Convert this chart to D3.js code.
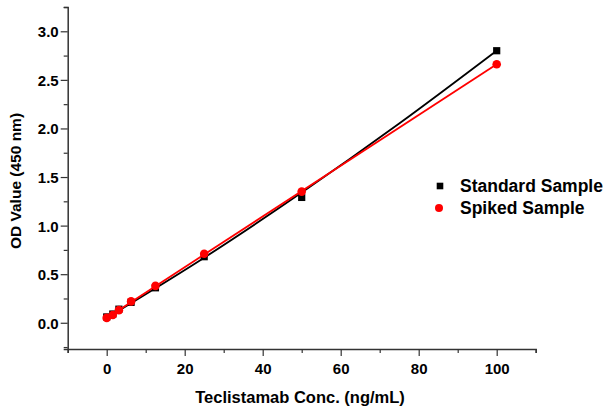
<!DOCTYPE html>
<html>
<head>
<meta charset="utf-8">
<script src="https://cdn.jsdelivr.net/npm/d3@7"></script>
<style>
  body { margin: 0; background: #fff; }
  svg { font-family: Arial, "Liberation Sans", sans-serif; font-weight: bold; }
</style>
</head>
<body>
<svg id="chart" width="608" height="410"></svg>
<script>
// concentrations (ng/mL)
const conc = [0, 1.5625, 3.125, 6.25, 12.5, 25, 50, 100];
const standardOD = [0.06, 0.09, 0.14, 0.21, 0.36, 0.68, 1.29, 2.80];
const spikedOD = [0.05, 0.08, 0.13, 0.22, 0.38, 0.71, 1.35, 2.66];

// fitted curves
const standardFitX = [0, 25, 50, 75, 100];
const standardFitY = [0.05, 0.67, 1.34, 2.05, 2.80];
const spikedFitX = [0, 100];
const spikedFitY = [0.05, 2.66];

const xTicks = [0, 20, 40, 60, 80, 100];
const yTicks = [0.0, 0.5, 1.0, 1.5, 2.0, 2.5, 3.0];

const svg = d3.select('#chart');

const x = d3.scaleLinear().domain([-10, 110]).range([67.7, 535.7]);
const y = d3.scaleLinear().domain([-0.27, 3.25]).range([349, 7]);

const axisColor = '#333';

// y axis
const yAxis = svg.append('g').attr('transform', `translate(${x(-10)},0)`);
yAxis.call(d3.axisLeft(y).tickValues(d3.range(-0.25, 3.26, 0.25)).tickSize(4).tickFormat(''));
yAxis.selectAll('.tick').filter(d => yTicks.some(t => Math.abs(t - d) < 1e-6))
    .select('line').attr('x2', -7);
yAxis.selectAll('.tick').filter(d => yTicks.some(t => Math.abs(t - d) < 1e-6))
    .append('text')
    .attr('x', -9).attr('dy', '0.36em')
    .attr('fill', '#000').attr('text-anchor', 'end')
    .style('font-size', '15px').style('font-weight', 'bold')
    .text(d => d3.format('.1f')(d));

// x axis
const xAxis = svg.append('g').attr('transform', `translate(0,${y(-0.27)})`);
xAxis.call(d3.axisBottom(x).tickValues(d3.range(-10, 111, 10)).tickSize(4).tickFormat(''));
xAxis.selectAll('.tick').filter(d => xTicks.includes(d)).select('line').attr('y2', 7);
xAxis.selectAll('.tick').filter(d => xTicks.includes(d))
    .append('text')
    .attr('y', 25)
    .attr('fill', '#000').attr('text-anchor', 'middle')
    .style('font-size', '15px').style('font-weight', 'bold')
    .text(d => d);

svg.selectAll('.domain').attr('stroke', axisColor).attr('stroke-width', 1.5);
svg.selectAll('.tick line').attr('stroke', axisColor).attr('stroke-width', 1.2);

// axis titles
svg.append('text')
    .attr('x', 300).attr('y', 403)
    .attr('text-anchor', 'middle')
    .style('font-size', '16.5px')
    .text('Teclistamab Conc. (ng/mL)');

svg.append('text')
    .attr('transform', 'translate(21,181) rotate(-90)')
    .attr('text-anchor', 'middle')
    .style('font-size', '15.5px')
    .text('OD Value (450 nm)');

// fit lines and points
const curve = d3.line().x(d => x(d[0])).y(d => y(d[1])).curve(d3.curveMonotoneX);

svg.append('path')
    .datum(d3.zip(standardFitX, standardFitY))
    .attr('d', curve)
    .attr('fill', 'none').attr('stroke', '#000').attr('stroke-width', 1.8);

svg.append('g').selectAll('rect')
    .data(d3.zip(conc, standardOD))
    .join('rect')
    .attr('x', d => x(d[0]) - 3.6).attr('y', d => y(d[1]) - 3.6)
    .attr('width', 7.2).attr('height', 7.2)
    .attr('fill', '#000');

svg.append('path')
    .datum(d3.zip(spikedFitX, spikedFitY))
    .attr('d', curve)
    .attr('fill', 'none').attr('stroke', '#ff0000').attr('stroke-width', 1.8);

svg.append('g').selectAll('circle')
    .data(d3.zip(conc, spikedOD))
    .join('circle')
    .attr('cx', d => x(d[0])).attr('cy', d => y(d[1]))
    .attr('r', 4.3)
    .attr('fill', '#ff0000');

// legend
const legend = svg.append('g').attr('transform', 'translate(440,186)');
legend.append('rect').attr('x', -3.3).attr('y', -3.3).attr('width', 6.6).attr('height', 6.6).attr('fill', '#000');
legend.append('text').attr('x', 20).attr('dy', '0.36em').style('font-size', '17.5px').text('Standard Sample');
legend.append('circle').attr('cx', -1).attr('cy', 22).attr('r', 4).attr('fill', '#ff0000');
legend.append('text').attr('x', 20).attr('y', 22).attr('dy', '0.36em').style('font-size', '17.5px').text('Spiked Sample');
</script>
</body>
</html>
